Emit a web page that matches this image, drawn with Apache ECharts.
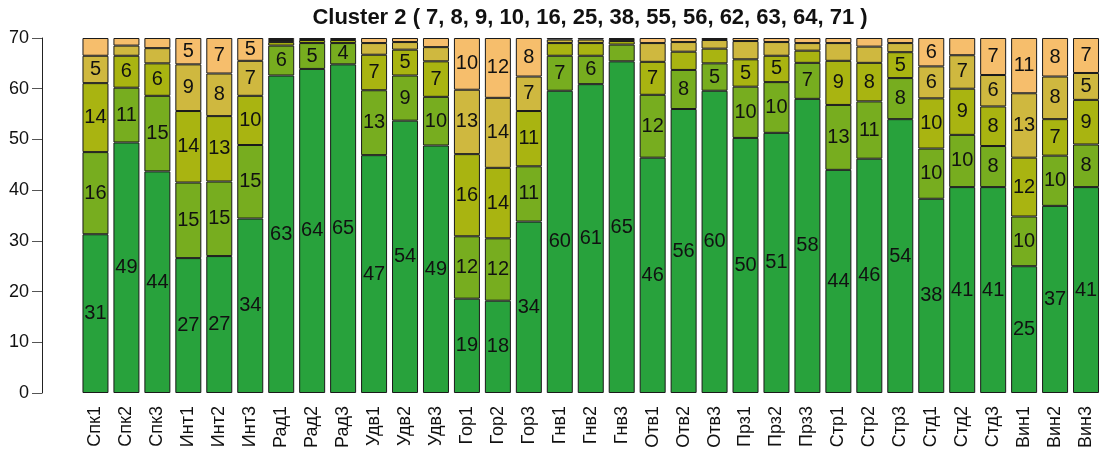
<!DOCTYPE html>
<html>
<head>
<meta charset="utf-8">
<script src="https://cdn.jsdelivr.net/npm/echarts@6/dist/echarts.min.js"></script>
<style>html,body{margin:0;padding:0;background:#fff}#c{width:1103px;height:453px}</style>
</head>
<body>
<div id="c"></div>
<script>
const titleText = 'Cluster 2 ( 7, 8, 9, 10, 16, 25, 38, 55, 56, 62, 63, 64, 71 )';
const categories = ['Спк1','Спк2','Спк3','Инт1','Инт2','Инт3','Рад1','Рад2','Рад3','Удв1','Удв2','Удв3',
  'Гор1','Гор2','Гор3','Гнв1','Гнв2','Гнв3','Отв1','Отв2','Отв3','Прз1','Прз2','Прз3',
  'Стр1','Стр2','Стр3','Стд1','Стд2','Стд3','Вин1','Вин2','Вин3'];
// stacked segments, bottom to top
const seg1 = [31.3,49.4,43.7,26.6,27.0,34.4,62.6,63.9,64.8,46.9,53.7,48.8,18.6,18.2,33.8,59.6,60.9,65.4,46.4,56.0,59.6,50.3,51.3,58.0,44.0,46.2,54.0,38.3,40.6,40.6,25.0,36.9,40.6];
const seg2 = [16.2,10.8,14.9,14.9,14.7,14.5,5.9,5.1,4.2,12.8,8.9,9.6,12.3,12.3,10.9,6.9,5.6,3.3,12.4,7.7,5.4,10.1,10.0,7.1,12.8,11.3,8.1,9.9,10.3,8.1,9.8,9.9,8.4];
const seg3 = [13.6,6.3,6.4,14.1,12.9,9.7,0.7,0.6,0.6,7.0,5.1,7.0,16.2,13.9,10.9,2.5,2.5,0.7,6.5,3.6,2.9,5.4,5.2,2.4,8.7,7.6,5.1,9.9,9.1,7.8,11.6,7.2,8.8];
const seg4 = [5.4,2.0,3.0,9.2,8.4,6.9,0.4,0.2,0.2,2.3,1.5,2.8,12.7,13.8,6.8,0.7,0.7,0.4,3.7,1.9,1.7,3.6,2.7,1.5,3.5,3.2,1.8,6.3,6.6,6.2,12.7,8.4,5.3];
const seg5 = [3.5,1.5,2.0,5.2,7.0,4.5,0.4,0.2,0.2,1.0,0.8,1.8,10.2,11.8,7.6,0.3,0.3,0.2,1.0,0.8,0.4,0.6,0.8,1.0,1.0,1.7,1.0,5.6,3.4,7.3,10.9,7.6,6.9];
const segments = [seg1, seg2, seg3, seg4, seg5];
const colors = ['#28A23C', '#77AD1F', '#A9B411', '#CFB83F', '#F6BE6C'];
const FONT = 'Liberation Sans, Arial, sans-serif';

const chart = echarts.init(document.getElementById('c'), null, {renderer: 'canvas'});
const series = segments.map((arr, i) => ({
  type: 'bar',
  stack: 'all',
  name: 'k' + (i + 1),
  data: arr,
  barWidth: 26,
  itemStyle: {color: colors[i], borderColor: '#1a1a1a', borderWidth: 1},
  label: {
    show: true,
    position: 'inside',
    color: '#111',
    fontSize: 20,
    fontFamily: FONT,
    formatter: p => (p.value >= 3.9 ? String(Math.round(p.value)) : '')
  },
  emphasis: {disabled: true},
  animation: false
}));

chart.setOption({
  animation: false,
  title: {
    text: titleText,
    left: 590,
    top: 7,
    padding: 0,
    textAlign: 'center',
    textStyle: {fontSize: 22, fontWeight: 'bold', color: '#111', fontFamily: FONT}
  },
  grid: {left: 80, right: 1.5, top: 38, bottom: 60, containLabel: false},
  xAxis: {
    type: 'category',
    data: categories,
    axisLine: {show: false},
    axisTick: {show: false},
    axisLabel: {
      rotate: 90,
      margin: 13,
      color: '#111',
      fontSize: 18,
      fontFamily: FONT,
      interval: 0
    }
  },
  yAxis: {
    type: 'value',
    min: 0,
    max: 70,
    interval: 10,
    offset: 38,
    axisLine: {show: true, lineStyle: {color: '#222', width: 1}},
    axisTick: {show: true, length: 10, lineStyle: {color: '#555'}},
    splitLine: {show: false},
    axisLabel: {color: '#111', fontSize: 18, margin: 13, fontFamily: FONT}
  },
  series: series
});
</script>
</body>
</html>
